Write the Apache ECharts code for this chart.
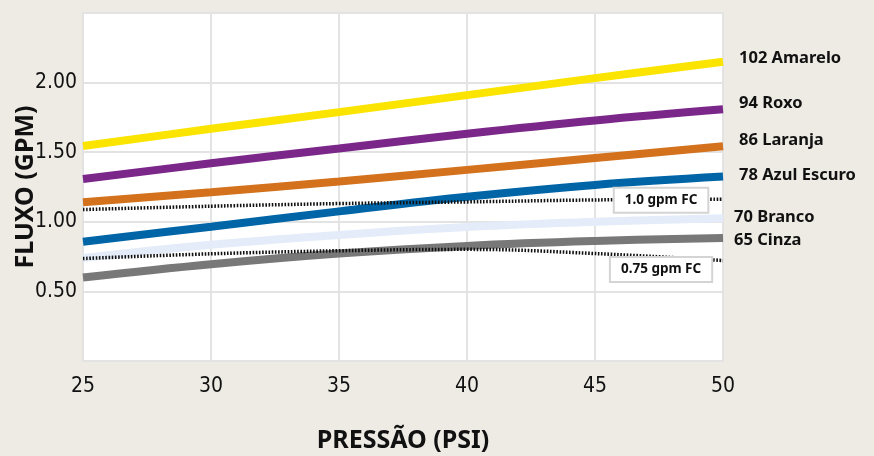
<!DOCTYPE html>
<html><head><meta charset="utf-8">
<script src="https://cdn.jsdelivr.net/npm/echarts@6/dist/echarts.min.js"></script>
<style>html,body{margin:0;padding:0;background:#eeeae4;}#c{width:874px;height:456px;}</style>
</head><body><div id="c"></div>
<script>
const pressure = [25, 30, 35, 40, 45, 50];
const amarelo = [1.545, 1.668, 1.788, 1.91, 2.032, 2.15];
const roxo = [1.307, 1.42, 1.527, 1.633, 1.728, 1.808];
const laranja = [1.14, 1.213, 1.29, 1.373, 1.458, 1.543];
const azulEscuro = [0.857, 0.965, 1.075, 1.18, 1.265, 1.325];
const branco = [0.74, 0.835, 0.905, 0.962, 1.0, 1.025];
const cinza = [0.60, 0.695, 0.772, 0.827, 0.862, 0.884];
const fc10 = [1.088, 1.112, 1.131, 1.143, 1.157, 1.162];
const fc075 = [0.736, 0.77, 0.792, 0.802, 0.772, 0.722];
const seriesNames = ['102 Amarelo','94 Roxo','86 Laranja','78 Azul Escuro','70 Branco','65 Cinza'];
const fcNames = ['1.0 gpm FC','0.75 gpm FC'];
const yTicks = [0.5, 1.0, 1.5, 2.0];

const zip = a => pressure.map((p,i)=>[p,a[i]]);
const colors = ['#fbe400','#7b2689','#d3711c','#0065a7','#e3ecf8','#787878'];
const dataSets = [amarelo, roxo, laranja, azulEscuro, branco, cinza];
const labelOffsets = [[11,-3],[11,-6],[11,-6],[11,-1],[6,-1],[6,2]];

const chart = echarts.init(document.getElementById('c'), null, {renderer:'canvas'});
const series = dataSets.map((d,i)=>({
  name: seriesNames[i], type:'line', data: zip(d), smooth: 0.4, showSymbol:false, symbol:'none',
  lineStyle:{color:colors[i], width:8, cap:'butt'}, z: 2,
  endLabel:{show:true, formatter: seriesNames[i], offset: labelOffsets[i], distance:5,
    fontFamily:'Noto Sans', fontWeight:'bold', fontSize:16.5, color:'#111'}
}));
const boxLabel = {show:true, position:'inside', formatter:'{b}', fontFamily:'Noto Sans', fontWeight:'bold', fontSize:13.5,
  color:'#111', backgroundColor:'#fff', borderColor:'#d4d4d4', borderWidth:2, padding:[5,10,4,10]};
[fc10, fc075].forEach((d,i)=>{
  series.push({
    name: fcNames[i], type:'line', data: zip(d), smooth:0.4, showSymbol:false, symbol:'none', z:5,
    lineStyle:{color:'#111', width:3.5, type:[1.6,1.6], cap:'butt'},
    markPoint:{symbol:'rect', symbolSize:0, silent:true, z:6,
      data:[{name: fcNames[i], coord: i===0 ? [47.58, 1.154] : [47.58, 0.657]}],
      label: boxLabel}
  });
});

const tickFont = 'DejaVu Sans Condensed';
chart.setOption({
  animation:false,
  backgroundColor:'#eeeae4',
  grid:{left:83, right:151, top:13, bottom:95, outerBoundsMode:'none', containLabel:false,
    show:true, backgroundColor:'#fff', borderColor:'#e3e3e3', borderWidth:2},
  xAxis:{type:'value', min:25, max:50, interval:5,
    name:'PRESSÃO (PSI)', nameLocation:'middle', nameGap:67, nameMoveOverlap:false,
    nameTextStyle:{fontFamily:'Noto Sans', fontWeight:'bold', fontSize:25, color:'#111'},
    axisLine:{show:false}, axisTick:{show:false},
    axisLabel:{margin:15, fontFamily:tickFont, fontSize:21, color:'#111'},
    splitLine:{show:true, lineStyle:{color:'#e3e3e3', width:2}}},
  yAxis:{type:'value', min:0, max:2.5, interval:0.5,
    name:'FLUXO (GPM)', nameLocation:'middle', nameGap:45, nameRotate:90, nameMoveOverlap:false,
    nameTextStyle:{fontFamily:'Noto Sans', fontWeight:'bold', fontSize:25, color:'#111'},
    axisLine:{show:false}, axisTick:{show:false},
    axisLabel:{margin:6, fontFamily:tickFont, fontSize:21, color:'#111',
      formatter: v => yTicks.some(t=>Math.abs(t-v)<1e-9) ? v.toFixed(2) : ''},
    splitLine:{show:true, lineStyle:{color:'#e3e3e3', width:2}}},
  series: series
});
</script></body></html>
